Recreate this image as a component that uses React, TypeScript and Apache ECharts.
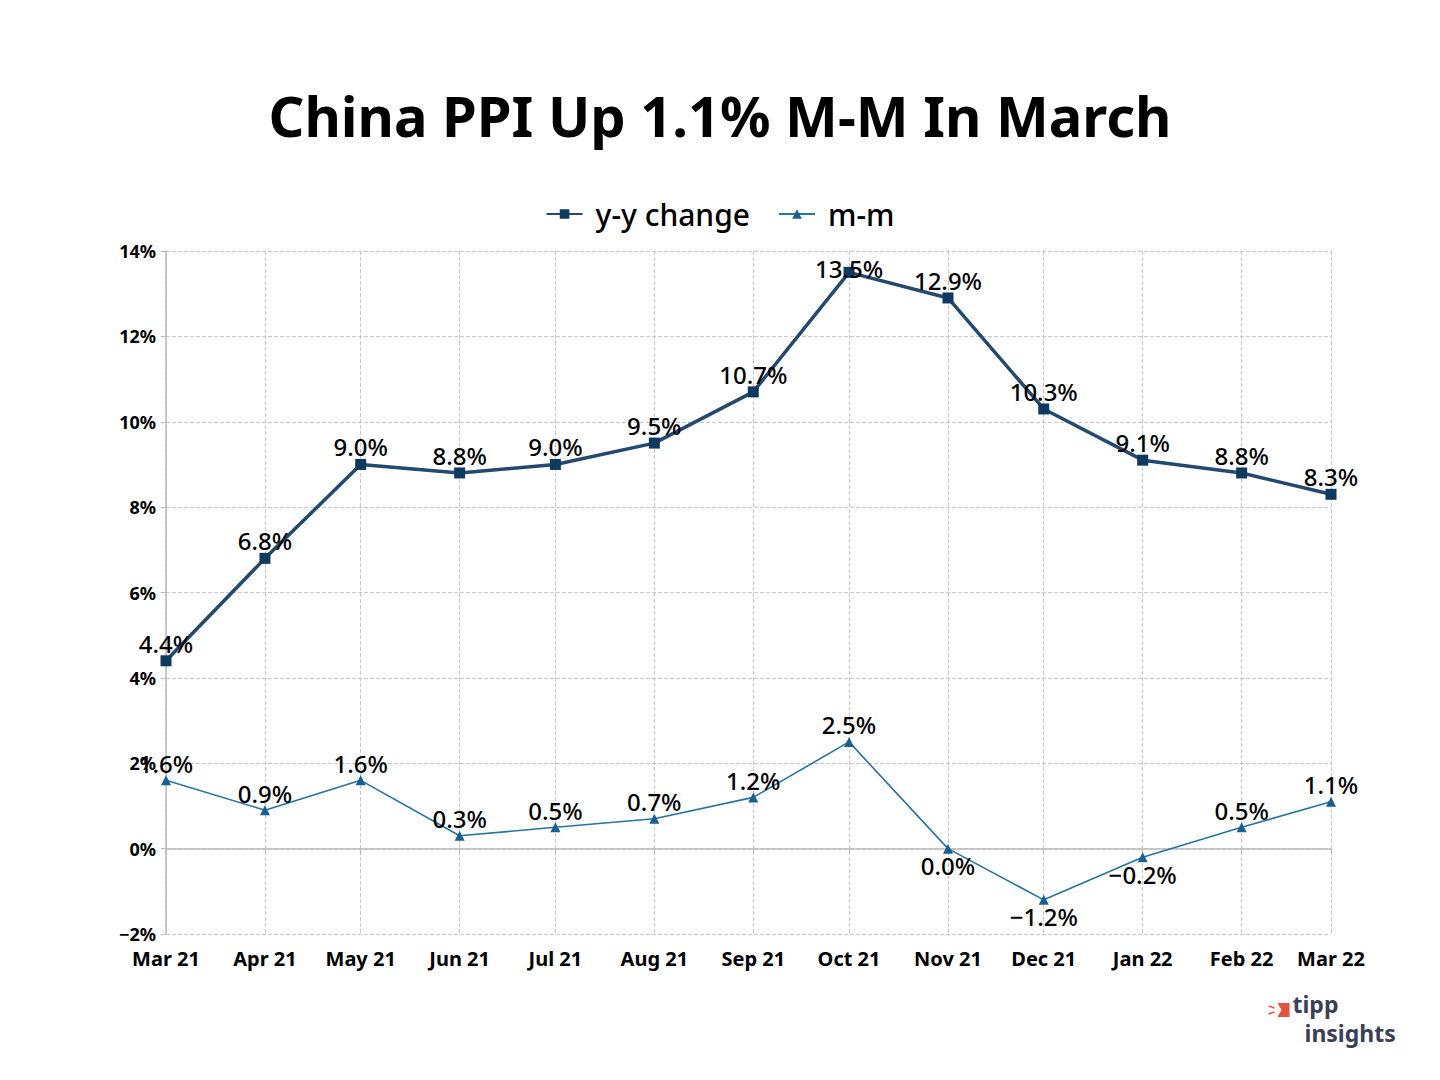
import React, { useEffect, useRef } from "react";
import * as echarts from "echarts";

const months = ["2021-03-01", "2021-04-01", "2021-05-01", "2021-06-01", "2021-07-01", "2021-08-01", "2021-09-01", "2021-10-01", "2021-11-01", "2021-12-01", "2022-01-01", "2022-02-01", "2022-03-01"];
const yyChange = [4.4, 6.8, 9.0, 8.8, 9.0, 9.5, 10.7, 13.5, 12.9, 10.3, 9.1, 8.8, 8.3];
const mmChange = [1.6, 0.9, 1.6, 0.3, 0.5, 0.7, 1.2, 2.5, 0.0, -1.2, -0.2, 0.5, 1.1];
const monthNames = ["Jan", "Feb", "Mar", "Apr", "May", "Jun", "Jul", "Aug", "Sep", "Oct", "Nov", "Dec"];
const yMin = -2;
const yMax = 14;
const yStep = 2;

const FONT = "'Noto Sans', 'DejaVu Sans', sans-serif";
const fmt = (v: number) => (v < 0 ? "\u2212" : "") + Math.abs(v).toFixed(1) + "%";
const toTs = (s: string) => {
  const [y, m, d] = s.split("-").map(Number);
  return Date.UTC(y, m - 1, d);
};

export default function App() {
  const ref = useRef<HTMLDivElement>(null);
  useEffect(() => {
    if (!ref.current) return;
    const chart = echarts.init(ref.current, undefined, { renderer: "svg", useUTC: true } as any);
    const labelBase = { show: true, fontFamily: FONT, fontSize: 24, fontWeight: 500, color: "#000" };
    const yyMax = Math.max(...yyChange);
    chart.setOption({
      animation: false,
      useUTC: true,
      backgroundColor: "#ffffff",
      title: {
        text: "China PPI Up 1.1% M-M In March",
        left: "center",
        top: 82,
        textStyle: { fontFamily: FONT, fontSize: 56, fontWeight: "bold", color: "#000" },
      },
      legend: {
        top: 194,
        left: "center",
        itemWidth: 36,
        itemHeight: 12,
        itemGap: 28,
        textStyle: { fontFamily: FONT, fontSize: 30, fontWeight: 500, color: "#000", padding: [0, 0, 0, 8] },
        data: ["y-y change", "m-m"],
      },
      grid: { left: 166, right: 109, top: 251, bottom: 146 },
      xAxis: {
        type: "time",
        min: toTs(months[0]),
        max: toTs(months[months.length - 1]),
        splitNumber: 12,
        axisLine: { lineStyle: { color: "#bbbbbb", width: 1.5 } },
        axisTick: { show: true, lineStyle: { color: "#bbbbbb" }, length: 6 },
        axisLabel: {
          fontFamily: FONT,
          fontSize: 20,
          fontWeight: "bold",
          color: "#000",
          margin: 14,
          showMinLabel: true,
          showMaxLabel: true,
          hideOverlap: false,
          formatter: (v: number) => {
            const d = new Date(v);
            return monthNames[d.getUTCMonth()] + " " + String(d.getUTCFullYear()).slice(2);
          },
        },
        splitLine: { show: true, lineStyle: { color: "#c8c8c8", type: "dashed", width: 1 } },
      },
      yAxis: {
        type: "value",
        min: yMin,
        max: yMax,
        interval: yStep,
        axisLine: { show: true, lineStyle: { color: "#bbbbbb", width: 1.5 } },
        axisTick: { show: true, lineStyle: { color: "#bbbbbb" }, length: 5 },
        axisLabel: {
          fontFamily: FONT,
          fontSize: 18,
          fontWeight: "bold",
          color: "#000",
          margin: 10,
          formatter: (v: number) => (v < 0 ? "\u2212" : "") + Math.abs(v) + "%",
        },
        splitLine: { show: true, lineStyle: { color: "#c8c8c8", type: "dashed", width: 1 } },
      },
      series: [
        {
          name: "y-y change",
          type: "line",
          data: yyChange.map((v, i) => ({
            value: [toTs(months[i]), v],
            label: v === yyMax ? { offset: [0, 14] } : {},
          })),
          symbol: "rect",
          symbolSize: 11,
          itemStyle: { color: "#0f3a5f" },
          lineStyle: { color: "#24496e", width: 3.5 },
          label: { ...labelBase, position: "top", distance: 0, formatter: (p: any) => fmt(p.value[1]) },
          z: 3,
        },
        {
          name: "m-m",
          type: "line",
          data: mmChange.map((v, i) => ({
            value: [toTs(months[i]), v],
            label: { position: v <= 0 ? "bottom" : "top" },
          })),
          symbol: "triangle",
          symbolSize: 10,
          itemStyle: { color: "#17608f" },
          lineStyle: { color: "#2574a2", width: 1.6 },
          label: { ...labelBase, distance: 0, formatter: (p: any) => fmt(p.value[1]) },
          z: 2,
        },
      ],
      graphic: [
        {
          type: "group",
          left: 1266,
          top: 992,
          children: [
            { type: "polygon", shape: { points: [[9, 5], [21, 5], [21, 19], [9, 19], [13, 12]] }, style: { fill: "#e8513f" } },
            { type: "line", shape: { x1: 0, y1: 8, x2: 6, y2: 10 }, style: { stroke: "#e8513f", lineWidth: 1.5 } },
            { type: "line", shape: { x1: 0, y1: 16, x2: 6, y2: 14 }, style: { stroke: "#e8513f", lineWidth: 1.5 } },
            {
              type: "text",
              x: 24,
              y: -6,
              style: { text: "tipp", fontFamily: FONT, fontSize: 23, fontWeight: "bold", fill: "#3a3f55" },
            },
            {
              type: "text",
              x: 36,
              y: 23,
              style: { text: "insights", fontFamily: FONT, fontSize: 23, fontWeight: "bold", fill: "#3a3f55" },
            },
          ],
        },
      ],
    });
    return () => chart.dispose();
  }, []);
  return <div ref={ref} style={{ position: "absolute", left: 0, top: 0, width: 1440, height: 1080 }} />;
}
